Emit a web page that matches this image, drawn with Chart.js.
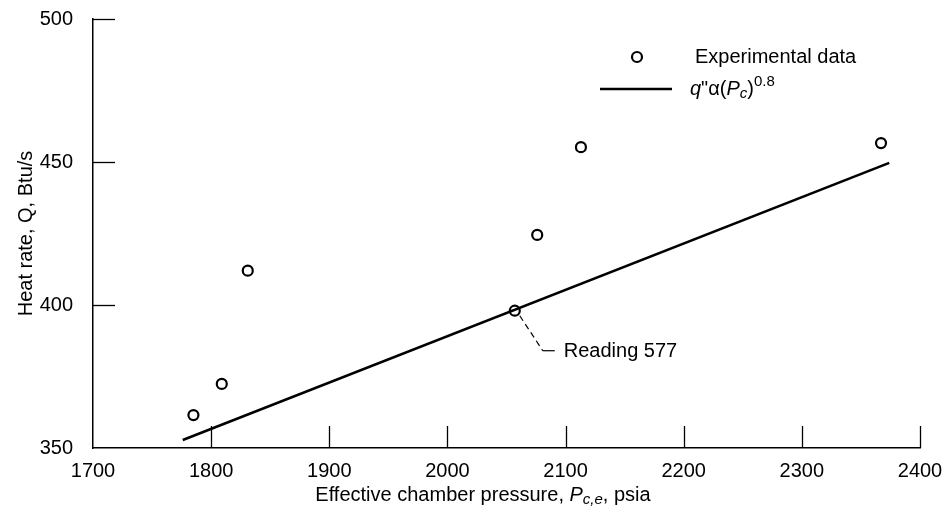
<!DOCTYPE html>
<html>
<head>
<meta charset="utf-8">
<script src="https://cdn.jsdelivr.net/npm/chart.js@4/dist/chart.umd.min.js"></script>
<style>
html,body{margin:0;padding:0;background:#fff;}
#wrap{width:951px;height:516px;position:relative;}
</style>
</head>
<body>
<div id="wrap"><canvas id="c" width="951" height="516"></canvas></div>
<script>
// ---- data ----
const expPressure = [1785, 1809, 1831, 2057, 2076, 2113, 2367];
const expHeatRate = [361.5, 372.4, 412, 398, 424.5, 455.2, 456.6];
const fitPressure = [1776, 2374];
const fitHeatRate = [352.8, 449.7];
const xTicks = [1700, 1800, 1900, 2000, 2100, 2200, 2300, 2400];
const yTicks = [350, 400, 450, 500];
const readingIndex = 3; // "Reading 577"
const readingLabel = "Reading 577";
const legendExp = "Experimental data";

const FONT = "'Liberation Sans', Arial, Helvetica, sans-serif";
const INK = '#000';
const FS = 20;

function drawRich(ctx, parts, x, y, align) {
  let total = 0;
  parts.forEach(p => { ctx.font = (p.style||'') + ' ' + p.size + 'px ' + FONT; p.w = ctx.measureText(p.t).width; total += p.w; });
  let cx = align === 'center' ? x - total/2 : x;
  parts.forEach(p => {
    ctx.font = (p.style||'') + ' ' + p.size + 'px ' + FONT;
    ctx.fillText(p.t, cx, y + (p.dy||0));
    cx += p.w;
  });
}

const extras = {
  id: 'extras',
  afterDraw(chart) {
    const ctx = chart.ctx;
    const xs = chart.scales.x, ys = chart.scales.y;
    const a = chart.chartArea;
    ctx.save();
    ctx.strokeStyle = INK; ctx.fillStyle = INK;
    // inner tick marks
    ctx.lineWidth = 1.3;
    xTicks.forEach(v => {
      if (v === xs.min) return;
      const px = Math.round(xs.getPixelForValue(v)) + 0.5;
      ctx.beginPath(); ctx.moveTo(px, a.bottom); ctx.lineTo(px, a.bottom - 22); ctx.stroke();
    });
    yTicks.forEach(v => {
      if (v === ys.min) return;
      const py = Math.round(ys.getPixelForValue(v)) + 0.5;
      ctx.beginPath(); ctx.moveTo(a.left, py); ctx.lineTo(a.left + 22, py); ctx.stroke();
    });
    // x axis title (rich text)
    ctx.textBaseline = 'middle';
    ctx.textAlign = 'left';
    drawRich(ctx, [
      {t: 'Effective chamber pressure, ', size: FS},
      {t: 'P', style: 'italic', size: FS},
      {t: 'c,e', style: 'italic', size: 15, dy: 5},
      {t: ', psia', size: FS}
    ], 483, 495, 'center');
    // legend
    ctx.lineWidth = 2.2;
    ctx.beginPath(); ctx.arc(637, 57, 5, 0, Math.PI*2); ctx.stroke();
    ctx.font = FS + 'px ' + FONT;
    ctx.fillText(legendExp, 695, 57);
    ctx.lineWidth = 2.5;
    ctx.beginPath(); ctx.moveTo(600, 89); ctx.lineTo(672, 89); ctx.stroke();
    drawRich(ctx, [
      {t: 'q', style: 'italic', size: FS},
      {t: '"', size: FS},
      {t: 'α(', size: FS},
      {t: 'P', style: 'italic', size: FS},
      {t: 'c', style: 'italic', size: 15, dy: 5},
      {t: ')', size: FS},
      {t: '0.8', size: 15, dy: -7}
    ], 690, 89, 'left');
    // annotation
    const px = xs.getPixelForValue(expPressure[readingIndex]);
    const py = ys.getPixelForValue(expHeatRate[readingIndex]);
    ctx.lineWidth = 1.2;
    ctx.setLineDash([6, 4]);
    ctx.beginPath(); ctx.moveTo(px + 5, py + 5); ctx.lineTo(px + 28, py + 40); ctx.stroke();
    ctx.setLineDash([]);
    ctx.beginPath(); ctx.moveTo(px + 28, py + 40); ctx.lineTo(px + 40, py + 40); ctx.stroke();
    ctx.font = FS + 'px ' + FONT;
    ctx.fillText(readingLabel, px + 49, py + 41);
    ctx.restore();
  }
};

new Chart(document.getElementById('c'), {
  type: 'scatter',
  data: {
    datasets: [
      {
        label: 'fit',
        type: 'line',
        data: fitPressure.map((x, i) => ({x, y: fitHeatRate[i]})),
        borderColor: INK, borderWidth: 2.6, pointRadius: 0, fill: false, tension: 0
      },
      {
        label: legendExp,
        data: expPressure.map((x, i) => ({x, y: expHeatRate[i]})),
        pointStyle: 'circle', pointRadius: 5, pointBorderWidth: 2.2,
        borderColor: INK, backgroundColor: 'rgba(255,255,255,0)'
      }
    ]
  },
  options: {
    responsive: false, animation: false, devicePixelRatio: 1,
    layout: {padding: {top: 19, right: 31, left: 0, bottom: 0}},
    plugins: {legend: {display: false}, tooltip: {enabled: false}},
    scales: {
      x: {
        type: 'linear', min: 1700, max: 2400,
        afterBuildTicks: s => { s.ticks = xTicks.map(v => ({value: v})); },
        afterFit: s => { s.height = 68; s.paddingLeft = 0; s.paddingRight = 0; },
        grid: {display: false},
        border: {display: true, color: INK, width: 1.5},
        ticks: {font: {family: FONT, size: FS}, color: INK, padding: 3, maxRotation: 0, callback: v => String(v)}
      },
      y: {
        type: 'linear', min: 350, max: 500,
        afterBuildTicks: s => { s.ticks = yTicks.map(v => ({value: v})); },
        afterFit: s => { s.width = 93; s.paddingTop = 0; s.paddingBottom = 0; },
        grid: {display: false},
        border: {display: true, color: INK, width: 1.5},
        ticks: {font: {family: FONT, size: FS}, color: INK, padding: 12, callback: v => String(v)},
        title: {display: true, text: 'Heat rate, Q, Btu/s', font: {family: FONT, size: FS}, color: INK, padding: {top: 14, bottom: 0}}
      }
    }
  },
  plugins: [extras]
});
</script>
</body>
</html>
